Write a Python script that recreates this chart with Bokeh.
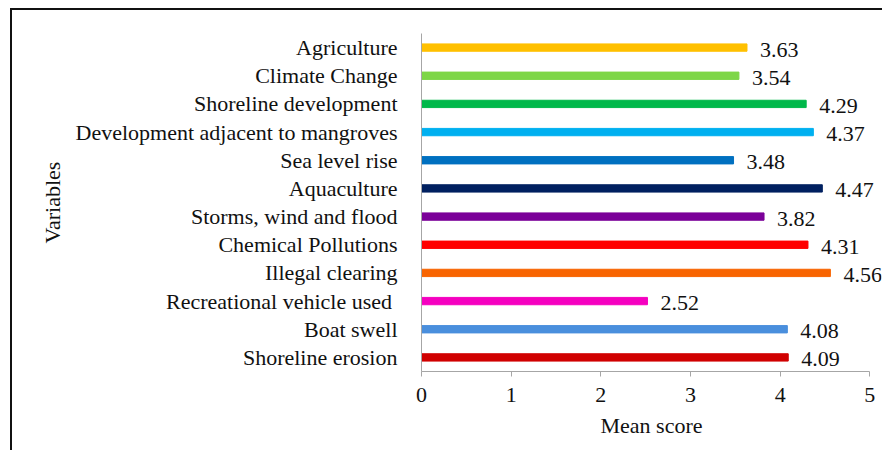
from bokeh.plotting import figure
from bokeh.models import ColumnDataSource, FactorRange, Range1d, FixedTicker, LabelSet
from bokeh.embed import file_html
from bokeh.resources import INLINE

variables = ["Agriculture", "Climate Change", "Shoreline development",
             "Development adjacent to mangroves", "Sea level rise", "Aquaculture",
             "Storms, wind and flood", "Chemical Pollutions", "Illegal clearing",
             "Recreational vehicle used ", "Boat swell", "Shoreline erosion"]
scores = [3.63, 3.54, 4.29, 4.37, 3.48, 4.47, 3.82, 4.31, 4.56, 2.52, 4.08, 4.09]
colors = ["#FFC000", "#7ED647", "#00B84A", "#00B0F0", "#0070C0", "#002060",
          "#7B0099", "#FF0000", "#F86400", "#F500C0", "#4A8FDD", "#D00000"]
x_ticks = [0, 1, 2, 3, 4, 5]

FONT = "Liberation Serif"
FS = "22px"

src = ColumnDataSource(dict(var=variables, score=scores, color=colors,
                            label=["%.2f" % s for s in scores]))

# canvas is offset by 12px (left) and 10px (top) because of the CSS frame
p = figure(width=872, height=442, output_backend="svg", toolbar_location=None,
           y_range=FactorRange(factors=list(reversed(variables))),
           x_range=Range1d(0, 5.13))
p.styles = {"margin-left": "10px", "margin-top": "8px",
            "border-left": "2px solid #111111", "border-top": "2px solid #111111"}
p.min_border_left = 409
p.min_border_right = 3
p.min_border_top = 23
p.min_border_bottom = 81

p.hbar(y="var", right="score", left=0, height=0.26, color="color", source=src)
labels = LabelSet(x="score", y="var", text="label", source=src, x_offset=13, y_offset=-2,
                  text_font=FONT, text_font_size=FS, text_baseline="middle",
                  text_align="left", text_color="#111111")
p.add_layout(labels)

p.outline_line_color = None
p.xgrid.visible = False
p.ygrid.visible = False

p.xaxis.ticker = FixedTicker(ticks=x_ticks)
p.xaxis.bounds = (x_ticks[0], x_ticks[-1])
p.xaxis.axis_line_color = "#A6A6A6"
p.xaxis.major_tick_line_color = "#A6A6A6"
p.xaxis.major_tick_out = 5
p.xaxis.major_tick_in = 0
p.xaxis.minor_tick_line_color = None
p.xaxis.major_label_standoff = 11
p.xaxis.major_label_text_font = FONT
p.xaxis.major_label_text_font_size = FS
p.xaxis.major_label_text_color = "#111111"
p.xaxis.axis_label = "Mean score"
p.xaxis.axis_label_text_font = FONT
p.xaxis.axis_label_text_font_size = FS
p.xaxis.axis_label_text_font_style = "normal"
p.xaxis.axis_label_text_color = "#111111"
p.xaxis.axis_label_standoff = 8

p.yaxis.axis_line_color = "#A6A6A6"
p.yaxis.major_tick_line_color = None
p.yaxis.minor_tick_line_color = None
p.yaxis.major_label_standoff = 18
p.yaxis.major_label_text_font = FONT
p.yaxis.major_label_text_font_size = FS
p.yaxis.major_label_text_color = "#111111"
p.yaxis.axis_label = "Variables"
p.yaxis.axis_label_text_font = FONT
p.yaxis.axis_label_text_font_size = FS
p.yaxis.axis_label_text_font_style = "normal"
p.yaxis.axis_label_text_color = "#111111"
p.yaxis.axis_label_standoff = 8

open("out.html", "w").write(file_html(p, INLINE))
